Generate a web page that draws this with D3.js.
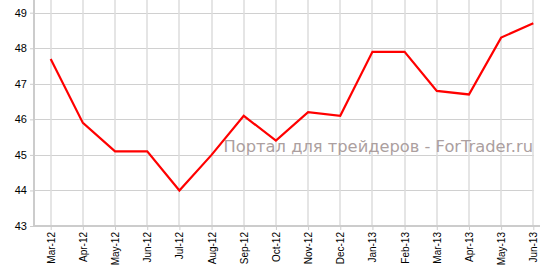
<!DOCTYPE html>
<html>
<head>
<meta charset="UTF-8">
<script src="https://cdn.jsdelivr.net/npm/d3@7"></script>
<style>
  body { margin: 0; background: #fff; }
  svg { display: block; font-family: 'DejaVu Sans', Verdana, sans-serif; }
  .grid line { stroke: #d0d0d0; stroke-width: 1px; }
  .vgrid line { stroke: #dcdcdc; stroke-width: 1.5px; }
  .axis path, .axis line { stroke: #cccccc; }
  .axis path { stroke-width: 2px; }
  .axis text { fill: #000; }
</style>
</head>
<body>
<div id="chart"></div>
<script>
// data
const months = ["Mar-12","Apr-12","May-12","Jun-12","Jul-12","Aug-12","Sep-12","Oct-12",
                "Nov-12","Dec-12","Jan-13","Feb-13","Mar-13","Apr-13","May-13","Jun-13"];
const values = [47.7, 45.9, 45.1, 45.1, 44.0, 45.0, 46.1, 45.4,
                46.2, 46.1, 47.9, 47.9, 46.8, 46.7, 48.3, 48.7];
const yTicks = [43, 44, 45, 46, 47, 48, 49];

const width = 540, height = 269;
const plotLeft = 34, plotBottom = 226, plotTop = 12.7;

const svg = d3.select("#chart").append("svg")
    .attr("width", width)
    .attr("height", height);

const x = d3.scalePoint()
    .domain(months)
    .range([50.7, 533.3]);

const y = d3.scaleLinear()
    .domain([43, 49])
    .range([plotBottom, plotTop]);

// horizontal grid
svg.append("g").attr("class", "grid")
  .selectAll("line")
  .data(yTicks.slice(1))
  .join("line")
    .attr("x1", plotLeft).attr("x2", x(months[months.length - 1]) + 0.5)
    .attr("y1", d => Math.round(y(d)) + 0.5)
    .attr("y2", d => Math.round(y(d)) + 0.5);

// vertical grid
svg.append("g").attr("class", "vgrid")
  .selectAll("line")
  .data(months)
  .join("line")
    .attr("x1", d => Math.round(x(d)))
    .attr("x2", d => Math.round(x(d)))
    .attr("y1", 0)
    .attr("y2", plotBottom);

// y axis
svg.append("g")
    .attr("class", "axis")
    .attr("transform", `translate(${plotLeft},0)`)
    .call(d3.axisLeft(y).tickValues(yTicks).tickFormat(d3.format("d"))
        .tickSize(4).tickSizeOuter(0).tickPadding(3))
    .call(g => g.select(".domain").attr("d", `M0,0V${plotBottom + 1}`))
    .selectAll("text")
    .style("font-size", "11px");

// x axis
svg.append("g")
    .attr("class", "axis")
    .attr("transform", `translate(0,${plotBottom})`)
    .call(d3.axisBottom(x).tickSize(4).tickSizeOuter(0))
    .call(g => g.select(".domain").attr("d", `M${plotLeft},0H${width}`))
    .selectAll("text")
    .style("font-size", "10px")
    .attr("transform", "rotate(-90)")
    .attr("text-anchor", "end")
    .attr("x", -6)
    .attr("y", 0)
    .attr("dy", "0.35em");

// watermark
svg.append("text")
    .attr("x", 533)
    .attr("y", 152)
    .attr("text-anchor", "end")
    .style("font-size", "16.3px")
    .style("fill", "#ac9f9f")
    .text("Портал для трейдеров - ForTrader.ru");

// line
const line = d3.line()
    .x((d, i) => x(months[i]))
    .y(d => y(d));

svg.append("path")
    .datum(values)
    .attr("fill", "none")
    .attr("stroke", "#ff0000")
    .attr("stroke-width", 2.2)
    .attr("stroke-linejoin", "miter")
    .attr("d", line);
</script>
</body>
</html>
